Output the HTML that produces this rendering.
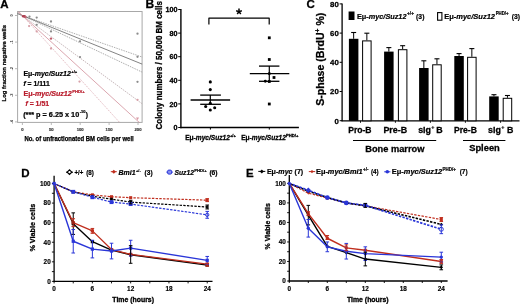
<!DOCTYPE html>
<html><head><meta charset="utf-8"><style>
html,body{margin:0;padding:0;background:#fff;}
svg{display:block;filter:blur(0.25px);font-family:"Liberation Sans", sans-serif;}
</style></head><body>
<svg width="520" height="304" viewBox="0 0 520 304" font-family='"Liberation Sans", sans-serif'>
<rect width="520" height="304" fill="#fff"/>
<text x="0.3" y="8.3" font-size="11.5" font-weight="bold" fill="#000" stroke="#000" stroke-width="0.28">A</text>
<rect x="17.6" y="11.5" width="124.5" height="110.9" fill="none" stroke="#a8a8a8" stroke-width="1"/>
<line x1="15.00" y1="15.50" x2="17.60" y2="15.50" stroke="#a8a8a8" stroke-width="0.8"/>
<text transform="translate(12.9,15.50) rotate(-90)" text-anchor="middle" font-size="4" font-weight="bold" fill="#333">0</text>
<line x1="15.00" y1="42.10" x2="17.60" y2="42.10" stroke="#a8a8a8" stroke-width="0.8"/>
<text transform="translate(12.9,42.10) rotate(-90)" text-anchor="middle" font-size="4" font-weight="bold" fill="#333">-1</text>
<line x1="15.00" y1="68.70" x2="17.60" y2="68.70" stroke="#a8a8a8" stroke-width="0.8"/>
<text transform="translate(12.9,68.70) rotate(-90)" text-anchor="middle" font-size="4" font-weight="bold" fill="#333">-2</text>
<line x1="15.00" y1="95.30" x2="17.60" y2="95.30" stroke="#a8a8a8" stroke-width="0.8"/>
<text transform="translate(12.9,95.30) rotate(-90)" text-anchor="middle" font-size="4" font-weight="bold" fill="#333">-3</text>
<line x1="15.00" y1="121.90" x2="17.60" y2="121.90" stroke="#a8a8a8" stroke-width="0.8"/>
<text transform="translate(12.9,121.90) rotate(-90)" text-anchor="middle" font-size="4" font-weight="bold" fill="#333">-4</text>
<line x1="22.40" y1="122.50" x2="22.40" y2="125.00" stroke="#a8a8a8" stroke-width="0.8"/>
<text x="22.4" y="130.8" font-size="4.2" font-weight="bold" fill="#333" text-anchor="middle" stroke="#333" stroke-width="0.15">0</text>
<line x1="51.30" y1="122.50" x2="51.30" y2="125.00" stroke="#a8a8a8" stroke-width="0.8"/>
<text x="51.3" y="130.8" font-size="4.2" font-weight="bold" fill="#333" text-anchor="middle" stroke="#333" stroke-width="0.15">50</text>
<line x1="80.20" y1="122.50" x2="80.20" y2="125.00" stroke="#a8a8a8" stroke-width="0.8"/>
<text x="80.19999999999999" y="130.8" font-size="4.2" font-weight="bold" fill="#333" text-anchor="middle" stroke="#333" stroke-width="0.15">100</text>
<line x1="109.10" y1="122.50" x2="109.10" y2="125.00" stroke="#a8a8a8" stroke-width="0.8"/>
<text x="109.1" y="130.8" font-size="4.2" font-weight="bold" fill="#333" text-anchor="middle" stroke="#333" stroke-width="0.15">150</text>
<line x1="138.00" y1="122.50" x2="138.00" y2="125.00" stroke="#a8a8a8" stroke-width="0.8"/>
<text x="138.0" y="130.8" font-size="4.2" font-weight="bold" fill="#333" text-anchor="middle" stroke="#333" stroke-width="0.15">200</text>
<text x="24.4" y="140.7" font-size="6.3" font-weight="bold" fill="#000" textLength="109.3" lengthAdjust="spacingAndGlyphs" stroke="#000" stroke-width="0.25">No. of unfractionated BM cells per well</text>
<text transform="translate(5.6,63.2) rotate(-90)" x="0" y="0" text-anchor="middle" font-size="6.1" font-weight="bold" fill="#000" textLength="76.5" lengthAdjust="spacingAndGlyphs" stroke="#000" stroke-width="0.25">Log fraction negative wells</text>
<clipPath id="clipA"><rect x="17.6" y="11.5" width="124.5" height="110.9"/></clipPath>
<g clip-path="url(#clipA)">
<line x1="12.40" y1="12.03" x2="152.40" y2="60.61" stroke="#8c8c8c" stroke-width="0.7" stroke-dasharray="1.5,1.0"/>
<line x1="12.40" y1="11.44" x2="152.40" y2="68.28" stroke="#5a5a5a" stroke-width="0.75"/>
<line x1="12.40" y1="10.77" x2="152.40" y2="76.99" stroke="#8c8c8c" stroke-width="0.7" stroke-dasharray="1.5,1.0"/>
<line x1="12.40" y1="8.13" x2="152.40" y2="111.31" stroke="#b4a0a4" stroke-width="0.75" stroke-dasharray="1.5,1.0"/>
<line x1="12.40" y1="6.35" x2="152.40" y2="134.45" stroke="#cc808c" stroke-width="0.7"/>
<line x1="12.40" y1="4.50" x2="152.40" y2="158.50" stroke="#d8a4ac" stroke-width="0.7" stroke-dasharray="1.5,1.0"/>
</g>
<circle cx="29.50" cy="16.60" r="1.15" fill="#8c8c8c" stroke="none" stroke-width="1"/>
<circle cx="36.70" cy="17.60" r="1.15" fill="#8c8c8c" stroke="none" stroke-width="1"/>
<circle cx="36.70" cy="24.80" r="1.15" fill="#8c8c8c" stroke="none" stroke-width="1"/>
<circle cx="51.00" cy="21.50" r="1.15" fill="#8c8c8c" stroke="none" stroke-width="1"/>
<circle cx="51.00" cy="31.40" r="1.15" fill="#8c8c8c" stroke="none" stroke-width="1"/>
<circle cx="80.00" cy="41.30" r="1.15" fill="#8c8c8c" stroke="none" stroke-width="1"/>
<circle cx="80.00" cy="57.10" r="1.15" fill="#8c8c8c" stroke="none" stroke-width="1"/>
<circle cx="137.50" cy="33.70" r="1.15" fill="#8c8c8c" stroke="none" stroke-width="1"/>
<circle cx="137.50" cy="56.80" r="1.15" fill="#8c8c8c" stroke="none" stroke-width="1"/>
<circle cx="137.50" cy="81.80" r="1.15" fill="#8c8c8c" stroke="none" stroke-width="1"/>
<circle cx="29.10" cy="26.10" r="1.15" fill="#d8a0a8" stroke="none" stroke-width="1"/>
<circle cx="36.70" cy="31.40" r="1.15" fill="#d8a0a8" stroke="none" stroke-width="1"/>
<circle cx="51.00" cy="48.50" r="1.15" fill="#d8a0a8" stroke="none" stroke-width="1"/>
<circle cx="79.50" cy="81.60" r="1.15" fill="#d8a0a8" stroke="none" stroke-width="1"/>
<circle cx="137.50" cy="99.80" r="1.15" fill="#d8a0a8" stroke="none" stroke-width="1"/>
<circle cx="51.00" cy="38.60" r="1.2" fill="#c05a6a" stroke="none" stroke-width="1"/>
<path d="M136,117.6 L139,117.6 L137.5,120.2 Z" fill="#d89aa4"/>
<circle cx="23.20" cy="16.20" r="1.3" fill="#b04050" stroke="none" stroke-width="1"/>
<circle cx="24.60" cy="16.40" r="1.3" fill="#b04050" stroke="none" stroke-width="1"/>
<circle cx="25.60" cy="16.90" r="1.1" fill="#c06070" stroke="none" stroke-width="1"/>
<text x="23.4" y="75.7" font-size="7.0" font-weight="bold" fill="#000" color="#000" stroke="#000" stroke-width="0.22" textLength="47.4" lengthAdjust="spacingAndGlyphs">Eμ-<tspan font-style="italic">myc/Suz12</tspan></text>
<text x="71.3" y="72.6" font-size="4.3" font-weight="bold" fill="#000" color="#000" stroke="#000" stroke-width="0.22" textLength="6.0" lengthAdjust="spacingAndGlyphs">+/+</text>
<text x="23.4" y="85.5" font-size="7.0" font-weight="bold" fill="#000" color="#000" stroke="#000" stroke-width="0.22" textLength="26.4" lengthAdjust="spacingAndGlyphs"><tspan font-style="italic">f</tspan> = 1/111</text>
<text x="23.4" y="95.8" font-size="7.0" font-weight="bold" fill="#b91c2c" color="#b91c2c" stroke="#b91c2c" stroke-width="0.22" textLength="48.4" lengthAdjust="spacingAndGlyphs">Eμ-<tspan font-style="italic">myc/Suz12</tspan></text>
<text x="72.2" y="92.6" font-size="4.3" font-weight="bold" fill="#b91c2c" color="#b91c2c" stroke="#b91c2c" stroke-width="0.22" textLength="12.4" lengthAdjust="spacingAndGlyphs">PHD/+</text>
<text x="25.4" y="106.4" font-size="7.0" font-weight="bold" fill="#b91c2c" color="#b91c2c" stroke="#b91c2c" stroke-width="0.22" textLength="23.7" lengthAdjust="spacingAndGlyphs"><tspan font-style="italic">f</tspan> = 1/51</text>
<text x="23.2" y="116.5" font-size="7.0" font-weight="bold" fill="#000" color="#000" stroke="#000" stroke-width="0.22" textLength="56.0" lengthAdjust="spacingAndGlyphs">(*** p = 6.25 x 10</text>
<text x="79.7" y="113.2" font-size="4.3" font-weight="bold" fill="#000" color="#000" stroke="#000" stroke-width="0.22" textLength="5.8" lengthAdjust="spacingAndGlyphs">-10</text>
<text x="85.7" y="116.5" font-size="7.0" font-weight="bold" fill="#000" color="#000" stroke="#000" stroke-width="0.22" textLength="2.2" lengthAdjust="spacingAndGlyphs">)</text>
<text x="145.5" y="7.9" font-size="12" font-weight="bold" fill="#000" stroke="#000" stroke-width="0.28">B</text>
<line x1="180.90" y1="9.00" x2="180.90" y2="128.20" stroke="#000" stroke-width="1.4"/>
<line x1="180.20" y1="127.50" x2="298.90" y2="127.50" stroke="#000" stroke-width="1.4"/>
<line x1="178.20" y1="127.50" x2="180.90" y2="127.50" stroke="#000" stroke-width="1"/>
<text x="177.6" y="130.1" font-size="7.2" font-weight="bold" fill="#000" text-anchor="end" stroke="#000" stroke-width="0.28">0</text>
<line x1="178.20" y1="103.90" x2="180.90" y2="103.90" stroke="#000" stroke-width="1"/>
<text x="177.6" y="106.5" font-size="7.2" font-weight="bold" fill="#000" text-anchor="end" stroke="#000" stroke-width="0.28">20</text>
<line x1="178.20" y1="80.30" x2="180.90" y2="80.30" stroke="#000" stroke-width="1"/>
<text x="177.6" y="82.9" font-size="7.2" font-weight="bold" fill="#000" text-anchor="end" stroke="#000" stroke-width="0.28">40</text>
<line x1="178.20" y1="56.70" x2="180.90" y2="56.70" stroke="#000" stroke-width="1"/>
<text x="177.6" y="59.300000000000004" font-size="7.2" font-weight="bold" fill="#000" text-anchor="end" stroke="#000" stroke-width="0.28">60</text>
<line x1="178.20" y1="33.10" x2="180.90" y2="33.10" stroke="#000" stroke-width="1"/>
<text x="177.6" y="35.70000000000001" font-size="7.2" font-weight="bold" fill="#000" text-anchor="end" stroke="#000" stroke-width="0.28">80</text>
<line x1="178.20" y1="9.50" x2="180.90" y2="9.50" stroke="#000" stroke-width="1"/>
<text x="177.6" y="12.1" font-size="7.2" font-weight="bold" fill="#000" text-anchor="end" stroke="#000" stroke-width="0.28">100</text>
<line x1="210.40" y1="127.50" x2="210.40" y2="129.60" stroke="#000" stroke-width="1"/>
<line x1="269.30" y1="127.50" x2="269.30" y2="129.60" stroke="#000" stroke-width="1"/>
<text transform="translate(162.2,65.3) rotate(-90)" x="0" y="0" text-anchor="middle" font-size="8.3" font-weight="bold" fill="#000" textLength="128.4" lengthAdjust="spacingAndGlyphs" stroke="#000" stroke-width="0.28">Colony numbers / 50,000 BM cells</text>
<text x="185.2" y="140.3" font-size="6.6" font-weight="bold" fill="#000" stroke="#000" stroke-width="0.28">Eμ-<tspan font-style="italic">myc/Suz12</tspan><tspan font-size="4.2" dy="-3">+/+</tspan></text>
<text x="241.2" y="140.3" font-size="6.6" font-weight="bold" fill="#000" stroke="#000" stroke-width="0.28">Eμ-<tspan font-style="italic">myc/Suz12</tspan><tspan font-size="4.2" dy="-3">PHD/+</tspan></text>
<polyline points="208.90,24.40 208.90,18.20 269.20,18.20 269.20,24.40" fill="none" stroke="#000" stroke-width="1.2" stroke-linejoin="round"/>
<line x1="239.00" y1="11.60" x2="239.00" y2="8.60" stroke="#000" stroke-width="1.5"/>
<line x1="239.00" y1="11.60" x2="241.85" y2="10.67" stroke="#000" stroke-width="1.5"/>
<line x1="239.00" y1="11.60" x2="240.76" y2="14.03" stroke="#000" stroke-width="1.5"/>
<line x1="239.00" y1="11.60" x2="237.24" y2="14.03" stroke="#000" stroke-width="1.5"/>
<line x1="239.00" y1="11.60" x2="236.15" y2="10.67" stroke="#000" stroke-width="1.5"/>
<line x1="190.60" y1="100.00" x2="230.10" y2="100.00" stroke="#000" stroke-width="1.3"/>
<line x1="200.20" y1="95.10" x2="220.90" y2="95.10" stroke="#000" stroke-width="1.3"/>
<line x1="200.20" y1="104.30" x2="220.90" y2="104.30" stroke="#000" stroke-width="1.3"/>
<line x1="210.30" y1="95.10" x2="210.30" y2="104.30" stroke="#000" stroke-width="1.2"/>
<circle cx="210.30" cy="81.90" r="1.55" fill="#000" stroke="none" stroke-width="1"/>
<circle cx="210.30" cy="89.60" r="1.55" fill="#000" stroke="none" stroke-width="1"/>
<circle cx="210.30" cy="103.20" r="1.55" fill="#000" stroke="none" stroke-width="1"/>
<circle cx="205.70" cy="106.50" r="1.55" fill="#000" stroke="none" stroke-width="1"/>
<circle cx="214.70" cy="107.80" r="1.55" fill="#000" stroke="none" stroke-width="1"/>
<circle cx="210.30" cy="110.00" r="1.55" fill="#000" stroke="none" stroke-width="1"/>
<line x1="249.80" y1="73.60" x2="289.30" y2="73.60" stroke="#000" stroke-width="1.3"/>
<line x1="259.00" y1="66.10" x2="279.40" y2="66.10" stroke="#000" stroke-width="1.3"/>
<line x1="259.00" y1="81.30" x2="279.40" y2="81.30" stroke="#000" stroke-width="1.3"/>
<line x1="269.30" y1="66.10" x2="269.30" y2="81.30" stroke="#000" stroke-width="1.2"/>
<rect x="267.90" y="36.40" width="2.80" height="2.80" fill="#000" stroke="none" stroke-width="1"/>
<rect x="267.90" y="58.10" width="2.80" height="2.80" fill="#000" stroke="none" stroke-width="1"/>
<rect x="272.60" y="76.10" width="2.80" height="2.80" fill="#000" stroke="none" stroke-width="1"/>
<rect x="267.90" y="80.10" width="2.80" height="2.80" fill="#000" stroke="none" stroke-width="1"/>
<rect x="267.90" y="102.60" width="2.80" height="2.80" fill="#000" stroke="none" stroke-width="1"/>
<circle cx="265.30" cy="81.30" r="1.45" fill="#000" stroke="none" stroke-width="1"/>
<circle cx="269.30" cy="73.60" r="1.5" fill="#000" stroke="none" stroke-width="1"/>
<text x="306.6" y="8.3" font-size="11.5" font-weight="bold" fill="#000" stroke="#000" stroke-width="0.28">C</text>
<line x1="342.10" y1="3.50" x2="342.10" y2="121.20" stroke="#000" stroke-width="1.3"/>
<line x1="341.50" y1="120.80" x2="519.50" y2="120.80" stroke="#000" stroke-width="1.3"/>
<line x1="339.60" y1="120.70" x2="342.10" y2="120.70" stroke="#000" stroke-width="1"/>
<text x="338.8" y="123.5" font-size="7.8" font-weight="bold" fill="#000" text-anchor="end" stroke="#000" stroke-width="0.28">0</text>
<line x1="339.60" y1="91.50" x2="342.10" y2="91.50" stroke="#000" stroke-width="1"/>
<text x="338.8" y="94.3" font-size="7.8" font-weight="bold" fill="#000" text-anchor="end" stroke="#000" stroke-width="0.28">20</text>
<line x1="339.60" y1="62.30" x2="342.10" y2="62.30" stroke="#000" stroke-width="1"/>
<text x="338.8" y="65.10000000000001" font-size="7.8" font-weight="bold" fill="#000" text-anchor="end" stroke="#000" stroke-width="0.28">40</text>
<line x1="339.60" y1="33.10" x2="342.10" y2="33.10" stroke="#000" stroke-width="1"/>
<text x="338.8" y="35.900000000000006" font-size="7.8" font-weight="bold" fill="#000" text-anchor="end" stroke="#000" stroke-width="0.28">60</text>
<line x1="339.60" y1="3.90" x2="342.10" y2="3.90" stroke="#000" stroke-width="1"/>
<text x="338.8" y="6.7000000000000055" font-size="7.8" font-weight="bold" fill="#000" text-anchor="end" stroke="#000" stroke-width="0.28">80</text>
<text transform="translate(323.6,59.2) rotate(-90)" x="0" y="0" text-anchor="middle" font-size="10.4" font-weight="bold" fill="#000" textLength="93" lengthAdjust="spacingAndGlyphs" stroke="#000" stroke-width="0.28">S-phase (BrdU<tspan font-size="6.5" dy="-3.8">+</tspan><tspan dy="3.8"> %)</tspan></text>
<rect x="348.60" y="11.50" width="5.90" height="8.50" fill="#000" stroke="none" stroke-width="1"/>
<text x="357.0" y="18.6" font-size="7.3" font-weight="bold" fill="#000" stroke="#000" stroke-width="0.2" textLength="49.5" lengthAdjust="spacingAndGlyphs">Eμ-<tspan font-style="italic">myc/Suz12</tspan></text>
<text x="407.1" y="15.4" font-size="4.8" font-weight="bold" fill="#000" stroke="#000" stroke-width="0.2" textLength="6.8" lengthAdjust="spacingAndGlyphs">+/+</text>
<text x="416.1" y="18.6" font-size="7.3" font-weight="bold" fill="#000" stroke="#000" stroke-width="0.2" textLength="8.3" lengthAdjust="spacingAndGlyphs">(3)</text>
<rect x="437.60" y="12.60" width="4.30" height="7.60" fill="#fff" stroke="#000" stroke-width="1.1"/>
<text x="444.2" y="18.6" font-size="7.3" font-weight="bold" fill="#000" stroke="#000" stroke-width="0.2" textLength="50.8" lengthAdjust="spacingAndGlyphs">Eμ-<tspan font-style="italic">myc/Suz12</tspan></text>
<text x="495.7" y="15.4" font-size="4.8" font-weight="bold" fill="#000" stroke="#000" stroke-width="0.2" textLength="12.9" lengthAdjust="spacingAndGlyphs">PHD/+</text>
<text x="511.8" y="18.6" font-size="7.3" font-weight="bold" fill="#000" stroke="#000" stroke-width="0.2" textLength="8.3" lengthAdjust="spacingAndGlyphs">(3)</text>
<line x1="353.65" y1="38.80" x2="353.65" y2="32.50" stroke="#000" stroke-width="1"/>
<line x1="351.15" y1="32.50" x2="356.15" y2="32.50" stroke="#000" stroke-width="1.1"/>
<rect x="348.90" y="38.80" width="9.50" height="82.00" fill="#000" stroke="none" stroke-width="1"/>
<line x1="366.85" y1="40.40" x2="366.85" y2="33.20" stroke="#000" stroke-width="1"/>
<line x1="364.35" y1="33.20" x2="369.35" y2="33.20" stroke="#000" stroke-width="1.1"/>
<rect x="362.60" y="40.90" width="8.50" height="79.90" fill="#fff" stroke="#000" stroke-width="1"/>
<line x1="388.85" y1="51.60" x2="388.85" y2="47.60" stroke="#000" stroke-width="1"/>
<line x1="386.35" y1="47.60" x2="391.35" y2="47.60" stroke="#000" stroke-width="1.1"/>
<rect x="384.10" y="51.60" width="9.50" height="69.20" fill="#000" stroke="none" stroke-width="1"/>
<line x1="402.65" y1="49.20" x2="402.65" y2="45.70" stroke="#000" stroke-width="1"/>
<line x1="400.15" y1="45.70" x2="405.15" y2="45.70" stroke="#000" stroke-width="1.1"/>
<rect x="398.40" y="49.70" width="8.50" height="71.10" fill="#fff" stroke="#000" stroke-width="1"/>
<line x1="423.85" y1="68.00" x2="423.85" y2="60.80" stroke="#000" stroke-width="1"/>
<line x1="421.35" y1="60.80" x2="426.35" y2="60.80" stroke="#000" stroke-width="1.1"/>
<rect x="419.10" y="68.00" width="9.50" height="52.80" fill="#000" stroke="none" stroke-width="1"/>
<line x1="436.95" y1="64.30" x2="436.95" y2="58.80" stroke="#000" stroke-width="1"/>
<line x1="434.45" y1="58.80" x2="439.45" y2="58.80" stroke="#000" stroke-width="1.1"/>
<rect x="432.70" y="64.80" width="8.50" height="56.00" fill="#fff" stroke="#000" stroke-width="1"/>
<line x1="459.05" y1="56.00" x2="459.05" y2="53.60" stroke="#000" stroke-width="1"/>
<line x1="456.55" y1="53.60" x2="461.55" y2="53.60" stroke="#000" stroke-width="1.1"/>
<rect x="454.30" y="56.00" width="9.50" height="64.80" fill="#000" stroke="none" stroke-width="1"/>
<line x1="471.85" y1="56.80" x2="471.85" y2="48.60" stroke="#000" stroke-width="1"/>
<line x1="469.35" y1="48.60" x2="474.35" y2="48.60" stroke="#000" stroke-width="1.1"/>
<rect x="467.60" y="57.30" width="8.50" height="63.50" fill="#fff" stroke="#000" stroke-width="1"/>
<line x1="493.95" y1="96.40" x2="493.95" y2="94.70" stroke="#000" stroke-width="1"/>
<line x1="491.45" y1="94.70" x2="496.45" y2="94.70" stroke="#000" stroke-width="1.1"/>
<rect x="489.20" y="96.40" width="9.50" height="24.40" fill="#000" stroke="none" stroke-width="1"/>
<line x1="507.45" y1="97.80" x2="507.45" y2="95.50" stroke="#000" stroke-width="1"/>
<line x1="504.95" y1="95.50" x2="509.95" y2="95.50" stroke="#000" stroke-width="1.1"/>
<rect x="503.20" y="98.30" width="8.50" height="22.50" fill="#fff" stroke="#000" stroke-width="1"/>
<line x1="360.50" y1="120.80" x2="360.50" y2="122.80" stroke="#000" stroke-width="0.9"/>
<line x1="395.40" y1="120.80" x2="395.40" y2="122.80" stroke="#000" stroke-width="0.9"/>
<line x1="430.40" y1="120.80" x2="430.40" y2="122.80" stroke="#000" stroke-width="0.9"/>
<line x1="465.40" y1="120.80" x2="465.40" y2="122.80" stroke="#000" stroke-width="0.9"/>
<line x1="500.60" y1="120.80" x2="500.60" y2="122.80" stroke="#000" stroke-width="0.9"/>
<text x="348.2" y="132.9" font-size="8.7" font-weight="bold" fill="#000" textLength="23.4" lengthAdjust="spacingAndGlyphs" stroke="#000" stroke-width="0.28">Pro-B</text>
<text x="383.4" y="132.9" font-size="8.7" font-weight="bold" fill="#000" textLength="23.8" lengthAdjust="spacingAndGlyphs" stroke="#000" stroke-width="0.28">Pre-B</text>
<text x="418.2" y="132.9" font-size="8.7" font-weight="bold" fill="#000" textLength="12.8" lengthAdjust="spacingAndGlyphs" stroke="#000" stroke-width="0.28">sIg</text>
<text x="431.3" y="129.4" font-size="5.5" font-weight="bold" fill="#000" stroke="#000" stroke-width="0.15">+</text>
<text x="436.3" y="132.9" font-size="8.7" font-weight="bold" fill="#000" textLength="6.4" lengthAdjust="spacingAndGlyphs" stroke="#000" stroke-width="0.28">B</text>
<text x="453.9" y="132.9" font-size="8.7" font-weight="bold" fill="#000" textLength="23.0" lengthAdjust="spacingAndGlyphs" stroke="#000" stroke-width="0.28">Pre-B</text>
<text x="488.0" y="132.9" font-size="8.7" font-weight="bold" fill="#000" textLength="12.8" lengthAdjust="spacingAndGlyphs" stroke="#000" stroke-width="0.28">sIg</text>
<text x="501.2" y="129.4" font-size="5.5" font-weight="bold" fill="#000" stroke="#000" stroke-width="0.15">+</text>
<text x="507.0" y="132.9" font-size="8.7" font-weight="bold" fill="#000" textLength="6.4" lengthAdjust="spacingAndGlyphs" stroke="#000" stroke-width="0.28">B</text>
<line x1="353.00" y1="140.50" x2="436.20" y2="140.50" stroke="#000" stroke-width="1.2"/>
<line x1="463.00" y1="140.50" x2="505.40" y2="140.50" stroke="#000" stroke-width="1.2"/>
<text x="365.2" y="151.6" font-size="9.3" font-weight="bold" fill="#000" textLength="59.3" lengthAdjust="spacingAndGlyphs" stroke="#000" stroke-width="0.28">Bone marrow</text>
<text x="469.2" y="150.8" font-size="9.3" font-weight="bold" fill="#000" textLength="30.6" lengthAdjust="spacingAndGlyphs" stroke="#000" stroke-width="0.28">Spleen</text>
<text x="21.3" y="176.8" font-size="11.5" font-weight="bold" fill="#000" stroke="#000" stroke-width="0.28">D</text>
<line x1="54.10" y1="175.80" x2="54.10" y2="282.00" stroke="#000" stroke-width="1.3"/>
<line x1="53.50" y1="281.40" x2="212.50" y2="281.40" stroke="#000" stroke-width="1.3"/>
<line x1="51.90" y1="281.40" x2="54.10" y2="281.40" stroke="#000" stroke-width="0.9"/>
<text x="50.7" y="283.7" font-size="6.4" font-weight="bold" fill="#000" text-anchor="end" stroke="#000" stroke-width="0.15">0</text>
<line x1="51.90" y1="271.61" x2="54.10" y2="271.61" stroke="#000" stroke-width="0.9"/>
<line x1="51.90" y1="261.82" x2="54.10" y2="261.82" stroke="#000" stroke-width="0.9"/>
<text x="50.7" y="264.12" font-size="6.4" font-weight="bold" fill="#000" text-anchor="end" stroke="#000" stroke-width="0.15">20</text>
<line x1="51.90" y1="252.03" x2="54.10" y2="252.03" stroke="#000" stroke-width="0.9"/>
<line x1="51.90" y1="242.24" x2="54.10" y2="242.24" stroke="#000" stroke-width="0.9"/>
<text x="50.7" y="244.54" font-size="6.4" font-weight="bold" fill="#000" text-anchor="end" stroke="#000" stroke-width="0.15">40</text>
<line x1="51.90" y1="232.45" x2="54.10" y2="232.45" stroke="#000" stroke-width="0.9"/>
<line x1="51.90" y1="222.66" x2="54.10" y2="222.66" stroke="#000" stroke-width="0.9"/>
<text x="50.7" y="224.95999999999998" font-size="6.4" font-weight="bold" fill="#000" text-anchor="end" stroke="#000" stroke-width="0.15">60</text>
<line x1="51.90" y1="212.87" x2="54.10" y2="212.87" stroke="#000" stroke-width="0.9"/>
<line x1="51.90" y1="203.08" x2="54.10" y2="203.08" stroke="#000" stroke-width="0.9"/>
<text x="50.7" y="205.38" font-size="6.4" font-weight="bold" fill="#000" text-anchor="end" stroke="#000" stroke-width="0.15">80</text>
<line x1="51.90" y1="193.29" x2="54.10" y2="193.29" stroke="#000" stroke-width="0.9"/>
<line x1="51.90" y1="183.50" x2="54.10" y2="183.50" stroke="#000" stroke-width="0.9"/>
<text x="50.7" y="185.8" font-size="6.4" font-weight="bold" fill="#000" text-anchor="end" stroke="#000" stroke-width="0.15">100</text>
<line x1="54.10" y1="281.40" x2="54.10" y2="283.40" stroke="#000" stroke-width="0.9"/>
<text x="54.1" y="290.9" font-size="6.4" font-weight="bold" fill="#000" text-anchor="middle" stroke="#000" stroke-width="0.15">0</text>
<line x1="73.24" y1="281.40" x2="73.24" y2="283.40" stroke="#000" stroke-width="0.9"/>
<line x1="92.38" y1="281.40" x2="92.38" y2="283.40" stroke="#000" stroke-width="0.9"/>
<text x="92.38" y="290.9" font-size="6.4" font-weight="bold" fill="#000" text-anchor="middle" stroke="#000" stroke-width="0.15">6</text>
<line x1="111.52" y1="281.40" x2="111.52" y2="283.40" stroke="#000" stroke-width="0.9"/>
<line x1="130.66" y1="281.40" x2="130.66" y2="283.40" stroke="#000" stroke-width="0.9"/>
<text x="130.66" y="290.9" font-size="6.4" font-weight="bold" fill="#000" text-anchor="middle" stroke="#000" stroke-width="0.15">12</text>
<line x1="149.80" y1="281.40" x2="149.80" y2="283.40" stroke="#000" stroke-width="0.9"/>
<line x1="168.94" y1="281.40" x2="168.94" y2="283.40" stroke="#000" stroke-width="0.9"/>
<text x="168.94" y="290.9" font-size="6.4" font-weight="bold" fill="#000" text-anchor="middle" stroke="#000" stroke-width="0.15">18</text>
<line x1="188.08" y1="281.40" x2="188.08" y2="283.40" stroke="#000" stroke-width="0.9"/>
<line x1="207.22" y1="281.40" x2="207.22" y2="283.40" stroke="#000" stroke-width="0.9"/>
<text x="207.22" y="290.9" font-size="6.4" font-weight="bold" fill="#000" text-anchor="middle" stroke="#000" stroke-width="0.15">24</text>
<text transform="translate(34.5,227.7) rotate(-90)" x="0" y="0" text-anchor="middle" font-size="7.5" font-weight="bold" fill="#000" textLength="47.8" lengthAdjust="spacingAndGlyphs" stroke="#000" stroke-width="0.28">% Viable cells</text>
<text x="133.16" y="301.8" font-size="7.8" font-weight="bold" fill="#000" text-anchor="middle" textLength="41.6" lengthAdjust="spacingAndGlyphs" stroke="#000" stroke-width="0.35">Time (hours)</text>
<polyline points="54.10,183.50 73.24,191.82 92.38,194.86 111.52,196.72 130.66,197.70 207.22,200.14" fill="none" stroke="#c02e1e" stroke-width="1.2" stroke-linejoin="round" stroke-dasharray="2.4,1.3" stroke-dashoffset="0"/>
<polyline points="54.10,183.50 73.24,191.82 92.38,196.23 111.52,199.16 130.66,202.10 207.22,207.00" fill="none" stroke="#000" stroke-width="1.2" stroke-linejoin="round" stroke-dasharray="2.4,1.3" stroke-dashoffset="1.25"/>
<polyline points="54.10,183.50 73.24,191.82 92.38,197.21 111.52,202.10 130.66,204.06 207.22,214.83" fill="none" stroke="#2a36d8" stroke-width="1.2" stroke-linejoin="round" stroke-dasharray="2.4,1.3" stroke-dashoffset="2.5"/>
<polyline points="54.10,183.50 73.24,223.64 92.38,241.65 111.52,250.07 130.66,254.77 207.22,265.05" fill="none" stroke="#000" stroke-width="1.35" stroke-linejoin="round"/>
<polyline points="54.10,183.50 73.24,222.66 92.38,230.88 111.52,249.58 130.66,254.38 207.22,264.17" fill="none" stroke="#c02e1e" stroke-width="1.3" stroke-linejoin="round"/>
<polyline points="54.10,183.50 73.24,241.26 92.38,249.09 111.52,251.05 130.66,248.11 207.22,260.35" fill="none" stroke="#2a36d8" stroke-width="1.4" stroke-linejoin="round"/>
<rect x="71.71" y="190.29" width="3.06" height="3.06" fill="#c02e1e" stroke="none" stroke-width="1"/>
<rect x="90.85" y="193.33" width="3.06" height="3.06" fill="#c02e1e" stroke="none" stroke-width="1"/>
<rect x="109.99" y="195.19" width="3.06" height="3.06" fill="#c02e1e" stroke="none" stroke-width="1"/>
<rect x="129.13" y="196.17" width="3.06" height="3.06" fill="#c02e1e" stroke="none" stroke-width="1"/>
<rect x="205.69" y="198.61" width="3.06" height="3.06" fill="#c02e1e" stroke="none" stroke-width="1"/>
<rect x="71.88" y="190.46" width="2.72" height="2.72" fill="#000" stroke="none" stroke-width="1"/>
<rect x="91.02" y="194.87" width="2.72" height="2.72" fill="#000" stroke="none" stroke-width="1"/>
<rect x="110.16" y="197.80" width="2.72" height="2.72" fill="#000" stroke="none" stroke-width="1"/>
<rect x="129.30" y="200.74" width="2.72" height="2.72" fill="#000" stroke="none" stroke-width="1"/>
<rect x="206.36" y="206.14" width="1.72" height="1.72" fill="#fff" stroke="#000" stroke-width="1.0"/>
<rect x="71.29" y="189.87" width="3.91" height="3.91" fill="#2a36d8" stroke="none" stroke-width="1"/>
<rect x="90.42" y="195.25" width="3.91" height="3.91" fill="#2a36d8" stroke="none" stroke-width="1"/>
<rect x="109.57" y="200.15" width="3.91" height="3.91" fill="#2a36d8" stroke="none" stroke-width="1"/>
<rect x="128.70" y="202.10" width="3.91" height="3.91" fill="#2a36d8" stroke="none" stroke-width="1"/>
<circle cx="207.22" cy="214.83" r="1.6617499999999998" fill="#fff" stroke="#2a36d8" stroke-width="1.0"/>
<rect x="71.63" y="222.02" width="3.23" height="3.23" fill="#000" stroke="none" stroke-width="1"/>
<rect x="90.77" y="240.04" width="3.23" height="3.23" fill="#000" stroke="none" stroke-width="1"/>
<rect x="109.91" y="248.46" width="3.23" height="3.23" fill="#000" stroke="none" stroke-width="1"/>
<rect x="129.04" y="253.16" width="3.23" height="3.23" fill="#000" stroke="none" stroke-width="1"/>
<rect x="205.60" y="263.44" width="3.23" height="3.23" fill="#000" stroke="none" stroke-width="1"/>
<rect x="71.63" y="221.04" width="3.23" height="3.23" fill="#c02e1e" stroke="none" stroke-width="1"/>
<rect x="90.77" y="229.27" width="3.23" height="3.23" fill="#c02e1e" stroke="none" stroke-width="1"/>
<rect x="109.91" y="247.97" width="3.23" height="3.23" fill="#c02e1e" stroke="none" stroke-width="1"/>
<rect x="129.04" y="252.76" width="3.23" height="3.23" fill="#c02e1e" stroke="none" stroke-width="1"/>
<rect x="205.60" y="262.55" width="3.23" height="3.23" fill="#c02e1e" stroke="none" stroke-width="1"/>
<rect x="52.48" y="181.88" width="3.23" height="3.23" fill="#2a36d8" stroke="none" stroke-width="1"/>
<rect x="71.63" y="239.65" width="3.23" height="3.23" fill="#2a36d8" stroke="none" stroke-width="1"/>
<rect x="90.77" y="247.48" width="3.23" height="3.23" fill="#2a36d8" stroke="none" stroke-width="1"/>
<rect x="109.91" y="249.44" width="3.23" height="3.23" fill="#2a36d8" stroke="none" stroke-width="1"/>
<rect x="129.04" y="246.50" width="3.23" height="3.23" fill="#2a36d8" stroke="none" stroke-width="1"/>
<rect x="205.60" y="258.74" width="3.23" height="3.23" fill="#2a36d8" stroke="none" stroke-width="1"/>
<line x1="73.24" y1="234.41" x2="73.24" y2="212.87" stroke="#000" stroke-width="1"/>
<line x1="71.44" y1="212.87" x2="75.04" y2="212.87" stroke="#000" stroke-width="1"/>
<line x1="71.44" y1="234.41" x2="75.04" y2="234.41" stroke="#000" stroke-width="1"/>
<line x1="73.24" y1="253.01" x2="73.24" y2="229.51" stroke="#2a36d8" stroke-width="1"/>
<line x1="71.44" y1="229.51" x2="75.04" y2="229.51" stroke="#2a36d8" stroke-width="1"/>
<line x1="71.44" y1="253.01" x2="75.04" y2="253.01" stroke="#2a36d8" stroke-width="1"/>
<line x1="73.24" y1="226.58" x2="73.24" y2="218.74" stroke="#c02e1e" stroke-width="1"/>
<line x1="71.44" y1="218.74" x2="75.04" y2="218.74" stroke="#c02e1e" stroke-width="1"/>
<line x1="71.44" y1="226.58" x2="75.04" y2="226.58" stroke="#c02e1e" stroke-width="1"/>
<line x1="92.38" y1="257.90" x2="92.38" y2="240.28" stroke="#2a36d8" stroke-width="1"/>
<line x1="90.58" y1="240.28" x2="94.18" y2="240.28" stroke="#2a36d8" stroke-width="1"/>
<line x1="90.58" y1="257.90" x2="94.18" y2="257.90" stroke="#2a36d8" stroke-width="1"/>
<line x1="92.38" y1="233.33" x2="92.38" y2="228.44" stroke="#c02e1e" stroke-width="1"/>
<line x1="90.58" y1="228.44" x2="94.18" y2="228.44" stroke="#c02e1e" stroke-width="1"/>
<line x1="90.58" y1="233.33" x2="94.18" y2="233.33" stroke="#c02e1e" stroke-width="1"/>
<line x1="111.52" y1="258.88" x2="111.52" y2="243.22" stroke="#2a36d8" stroke-width="1"/>
<line x1="109.72" y1="243.22" x2="113.32" y2="243.22" stroke="#2a36d8" stroke-width="1"/>
<line x1="109.72" y1="258.88" x2="113.32" y2="258.88" stroke="#2a36d8" stroke-width="1"/>
<line x1="130.66" y1="255.95" x2="130.66" y2="240.28" stroke="#2a36d8" stroke-width="1"/>
<line x1="128.86" y1="240.28" x2="132.46" y2="240.28" stroke="#2a36d8" stroke-width="1"/>
<line x1="128.86" y1="255.95" x2="132.46" y2="255.95" stroke="#2a36d8" stroke-width="1"/>
<line x1="130.66" y1="263.29" x2="130.66" y2="245.67" stroke="#000" stroke-width="1"/>
<line x1="128.86" y1="245.67" x2="132.46" y2="245.67" stroke="#000" stroke-width="1"/>
<line x1="128.86" y1="263.29" x2="132.46" y2="263.29" stroke="#000" stroke-width="1"/>
<line x1="207.22" y1="264.27" x2="207.22" y2="256.44" stroke="#2a36d8" stroke-width="1"/>
<line x1="205.42" y1="256.44" x2="209.02" y2="256.44" stroke="#2a36d8" stroke-width="1"/>
<line x1="205.42" y1="264.27" x2="209.02" y2="264.27" stroke="#2a36d8" stroke-width="1"/>
<line x1="207.22" y1="218.25" x2="207.22" y2="211.40" stroke="#2a36d8" stroke-width="1"/>
<line x1="205.42" y1="211.40" x2="209.02" y2="211.40" stroke="#2a36d8" stroke-width="1"/>
<line x1="205.42" y1="218.25" x2="209.02" y2="218.25" stroke="#2a36d8" stroke-width="1"/>
<line x1="207.22" y1="208.95" x2="207.22" y2="205.04" stroke="#000" stroke-width="1"/>
<line x1="205.42" y1="205.04" x2="209.02" y2="205.04" stroke="#000" stroke-width="1"/>
<line x1="205.42" y1="208.95" x2="209.02" y2="208.95" stroke="#000" stroke-width="1"/>
<line x1="207.22" y1="201.61" x2="207.22" y2="198.67" stroke="#c02e1e" stroke-width="1"/>
<line x1="205.42" y1="198.67" x2="209.02" y2="198.67" stroke="#c02e1e" stroke-width="1"/>
<line x1="205.42" y1="201.61" x2="209.02" y2="201.61" stroke="#c02e1e" stroke-width="1"/>
<line x1="207.22" y1="266.23" x2="207.22" y2="263.29" stroke="#c02e1e" stroke-width="1"/>
<line x1="205.42" y1="263.29" x2="209.02" y2="263.29" stroke="#c02e1e" stroke-width="1"/>
<line x1="205.42" y1="266.23" x2="209.02" y2="266.23" stroke="#c02e1e" stroke-width="1"/>
<line x1="130.66" y1="203.86" x2="130.66" y2="200.34" stroke="#000" stroke-width="1"/>
<line x1="128.86" y1="200.34" x2="132.46" y2="200.34" stroke="#000" stroke-width="1"/>
<line x1="128.86" y1="203.86" x2="132.46" y2="203.86" stroke="#000" stroke-width="1"/>
<line x1="66" y1="172.2" x2="73" y2="172.2" stroke="#000" stroke-width="1"/>
<path d="M67.2,172.2 L69.5,169.9 L71.8,172.2 L69.5,174.5 Z" fill="#fff" stroke="#000" stroke-width="1.2"/>
<text x="74.5" y="174.8" font-size="6.8" font-weight="bold" fill="#000" stroke="#000" stroke-width="0.2" textLength="8.8" lengthAdjust="spacingAndGlyphs">+/+</text>
<text x="86.2" y="174.8" font-size="6.8" font-weight="bold" fill="#000" stroke="#000" stroke-width="0.2" textLength="7.6" lengthAdjust="spacingAndGlyphs">(8)</text>
<line x1="110.8" y1="171.7" x2="116.8" y2="171.7" stroke="#c02e1e" stroke-width="1"/>
<path d="M111.8,171.7 L113.8,169.7 L115.8,171.7 L113.8,173.7 Z" fill="#c02e1e"/>
<text x="118.6" y="174.8" font-size="6.8" font-weight="bold" fill="#000" stroke="#000" stroke-width="0.2" textLength="17.0" lengthAdjust="spacingAndGlyphs" font-style="italic">Bmi1</text>
<text x="136.0" y="171.6" font-size="4.3" font-weight="bold" fill="#000" stroke="#000" stroke-width="0.2" textLength="4.8" lengthAdjust="spacingAndGlyphs">+/-</text>
<text x="144.6" y="174.8" font-size="6.8" font-weight="bold" fill="#000" stroke="#000" stroke-width="0.2" textLength="8.0" lengthAdjust="spacingAndGlyphs">(3)</text>
<line x1="166.3" y1="172.1" x2="172.9" y2="172.1" stroke="#2a36d8" stroke-width="1"/>
<rect x="167.6" y="170.1" width="4" height="4" rx="1.2" fill="#8890f0" stroke="#2a36d8" stroke-width="1"/>
<text x="174.4" y="174.8" font-size="6.8" font-weight="bold" fill="#000" stroke="#000" stroke-width="0.2" textLength="19.5" lengthAdjust="spacingAndGlyphs" font-style="italic">Suz12</text>
<text x="194.3" y="171.6" font-size="4.3" font-weight="bold" fill="#000" stroke="#000" stroke-width="0.2" textLength="12.4" lengthAdjust="spacingAndGlyphs">PHD/+</text>
<text x="209.4" y="174.8" font-size="6.8" font-weight="bold" fill="#000" stroke="#000" stroke-width="0.2" textLength="8.2" lengthAdjust="spacingAndGlyphs">(6)</text>
<text x="245.9" y="176.8" font-size="11.5" font-weight="bold" fill="#000" stroke="#000" stroke-width="0.28">E</text>
<line x1="289.30" y1="175.10" x2="289.30" y2="281.60" stroke="#000" stroke-width="1.3"/>
<line x1="288.70" y1="281.00" x2="447.60" y2="281.00" stroke="#000" stroke-width="1.3"/>
<line x1="287.10" y1="281.00" x2="289.30" y2="281.00" stroke="#000" stroke-width="0.9"/>
<text x="285.90000000000003" y="283.3" font-size="6.4" font-weight="bold" fill="#000" text-anchor="end" stroke="#000" stroke-width="0.15">0</text>
<line x1="287.10" y1="271.24" x2="289.30" y2="271.24" stroke="#000" stroke-width="0.9"/>
<line x1="287.10" y1="261.48" x2="289.30" y2="261.48" stroke="#000" stroke-width="0.9"/>
<text x="285.90000000000003" y="263.78000000000003" font-size="6.4" font-weight="bold" fill="#000" text-anchor="end" stroke="#000" stroke-width="0.15">20</text>
<line x1="287.10" y1="251.72" x2="289.30" y2="251.72" stroke="#000" stroke-width="0.9"/>
<line x1="287.10" y1="241.96" x2="289.30" y2="241.96" stroke="#000" stroke-width="0.9"/>
<text x="285.90000000000003" y="244.26000000000002" font-size="6.4" font-weight="bold" fill="#000" text-anchor="end" stroke="#000" stroke-width="0.15">40</text>
<line x1="287.10" y1="232.20" x2="289.30" y2="232.20" stroke="#000" stroke-width="0.9"/>
<line x1="287.10" y1="222.44" x2="289.30" y2="222.44" stroke="#000" stroke-width="0.9"/>
<text x="285.90000000000003" y="224.74" font-size="6.4" font-weight="bold" fill="#000" text-anchor="end" stroke="#000" stroke-width="0.15">60</text>
<line x1="287.10" y1="212.68" x2="289.30" y2="212.68" stroke="#000" stroke-width="0.9"/>
<line x1="287.10" y1="202.92" x2="289.30" y2="202.92" stroke="#000" stroke-width="0.9"/>
<text x="285.90000000000003" y="205.22000000000003" font-size="6.4" font-weight="bold" fill="#000" text-anchor="end" stroke="#000" stroke-width="0.15">80</text>
<line x1="287.10" y1="193.16" x2="289.30" y2="193.16" stroke="#000" stroke-width="0.9"/>
<line x1="287.10" y1="183.40" x2="289.30" y2="183.40" stroke="#000" stroke-width="0.9"/>
<text x="285.90000000000003" y="185.70000000000002" font-size="6.4" font-weight="bold" fill="#000" text-anchor="end" stroke="#000" stroke-width="0.15">100</text>
<line x1="289.30" y1="281.00" x2="289.30" y2="283.00" stroke="#000" stroke-width="0.9"/>
<text x="289.3" y="290.9" font-size="6.4" font-weight="bold" fill="#000" text-anchor="middle" stroke="#000" stroke-width="0.15">0</text>
<line x1="308.30" y1="281.00" x2="308.30" y2="283.00" stroke="#000" stroke-width="0.9"/>
<line x1="327.30" y1="281.00" x2="327.30" y2="283.00" stroke="#000" stroke-width="0.9"/>
<text x="327.298" y="290.9" font-size="6.4" font-weight="bold" fill="#000" text-anchor="middle" stroke="#000" stroke-width="0.15">6</text>
<line x1="346.30" y1="281.00" x2="346.30" y2="283.00" stroke="#000" stroke-width="0.9"/>
<line x1="365.30" y1="281.00" x2="365.30" y2="283.00" stroke="#000" stroke-width="0.9"/>
<text x="365.29600000000005" y="290.9" font-size="6.4" font-weight="bold" fill="#000" text-anchor="middle" stroke="#000" stroke-width="0.15">12</text>
<line x1="384.30" y1="281.00" x2="384.30" y2="283.00" stroke="#000" stroke-width="0.9"/>
<line x1="403.29" y1="281.00" x2="403.29" y2="283.00" stroke="#000" stroke-width="0.9"/>
<text x="403.294" y="290.9" font-size="6.4" font-weight="bold" fill="#000" text-anchor="middle" stroke="#000" stroke-width="0.15">18</text>
<line x1="422.29" y1="281.00" x2="422.29" y2="283.00" stroke="#000" stroke-width="0.9"/>
<line x1="441.29" y1="281.00" x2="441.29" y2="283.00" stroke="#000" stroke-width="0.9"/>
<text x="441.29200000000003" y="290.9" font-size="6.4" font-weight="bold" fill="#000" text-anchor="middle" stroke="#000" stroke-width="0.15">24</text>
<text transform="translate(269.7,226.3) rotate(-90)" x="0" y="0" text-anchor="middle" font-size="7.5" font-weight="bold" fill="#000" textLength="46.2" lengthAdjust="spacingAndGlyphs" stroke="#000" stroke-width="0.28">% Viable cells</text>
<text x="367.79600000000005" y="301.8" font-size="7.8" font-weight="bold" fill="#000" text-anchor="middle" textLength="41.6" lengthAdjust="spacingAndGlyphs" stroke="#000" stroke-width="0.35">Time (hours)</text>
<polyline points="289.30,183.40 308.30,193.16 327.30,198.04 346.30,202.92 365.30,205.85 441.29,219.51" fill="none" stroke="#c02e1e" stroke-width="1.2" stroke-linejoin="round" stroke-dasharray="2.4,1.3" stroke-dashoffset="0"/>
<polyline points="289.30,183.40 308.30,191.21 327.30,197.55 346.30,202.92 365.30,205.85 441.29,224.39" fill="none" stroke="#000" stroke-width="1.6" stroke-linejoin="round" stroke-dasharray="2.4,1.3" stroke-dashoffset="1.8"/>
<polyline points="289.30,183.40 308.30,190.23 327.30,197.55 346.30,202.92 365.30,205.36 441.29,229.27" fill="none" stroke="#2a36d8" stroke-width="1.7" stroke-linejoin="round" stroke-dasharray="2.4,1.3" stroke-dashoffset="0"/>
<polyline points="289.30,183.40 308.30,215.12 327.30,246.35 346.30,252.70 365.30,259.04 441.29,267.34" fill="none" stroke="#000" stroke-width="1.4" stroke-linejoin="round"/>
<polyline points="289.30,183.40 308.30,213.66 327.30,238.25 346.30,247.82 365.30,250.26 441.29,261.48" fill="none" stroke="#c02e1e" stroke-width="1.4" stroke-linejoin="round"/>
<polyline points="289.30,183.40 308.30,228.30 327.30,246.84 346.30,251.23 365.30,253.67 441.29,257.09" fill="none" stroke="#2a36d8" stroke-width="1.4" stroke-linejoin="round"/>
<path d="M306.62,191.98 L309.98,191.98 L308.30,194.84 Z" fill="#c02e1e"/>
<rect x="325.77" y="196.51" width="3.06" height="3.06" fill="#c02e1e" stroke="none" stroke-width="1"/>
<rect x="344.77" y="201.39" width="3.06" height="3.06" fill="#c02e1e" stroke="none" stroke-width="1"/>
<rect x="363.77" y="204.32" width="3.06" height="3.06" fill="#c02e1e" stroke="none" stroke-width="1"/>
<rect x="439.76" y="217.98" width="3.06" height="3.06" fill="#c02e1e" stroke="none" stroke-width="1"/>
<path d="M306.54,191.21 L308.30,189.45 L310.06,191.21 L308.30,192.97 Z" fill="#000"/>
<path d="M325.54,197.55 L327.30,195.79 L329.06,197.55 L327.30,199.31 Z" fill="#000"/>
<path d="M344.54,202.92 L346.30,201.16 L348.06,202.92 L346.30,204.68 Z" fill="#000"/>
<path d="M363.54,205.85 L365.30,204.09 L367.06,205.85 L365.30,207.61 Z" fill="#000"/>
<path d="M439.53,224.39 L441.29,222.63 L443.05,224.39 L441.29,226.15 Z" fill="#000"/>
<path d="M305.56,190.23 L308.30,187.50 L311.04,190.23 L308.30,192.97 Z" fill="#2a36d8"/>
<circle cx="327.30" cy="197.55" r="2.38" fill="#2a36d8" stroke="none" stroke-width="1"/>
<circle cx="346.30" cy="202.92" r="2.38" fill="#2a36d8" stroke="none" stroke-width="1"/>
<circle cx="365.30" cy="205.36" r="2.38" fill="#2a36d8" stroke="none" stroke-width="1"/>
<circle cx="441.29" cy="229.27" r="2.0229999999999997" fill="#fff" stroke="#2a36d8" stroke-width="1.0"/>
<path d="M306.54,215.12 L308.30,213.36 L310.06,215.12 L308.30,216.88 Z" fill="#000"/>
<path d="M325.54,246.35 L327.30,244.59 L329.06,246.35 L327.30,248.11 Z" fill="#000"/>
<path d="M344.54,252.70 L346.30,250.94 L348.06,252.70 L346.30,254.46 Z" fill="#000"/>
<path d="M363.54,259.04 L365.30,257.28 L367.06,259.04 L365.30,260.80 Z" fill="#000"/>
<path d="M439.53,267.34 L441.29,265.58 L443.05,267.34 L441.29,269.10 Z" fill="#000"/>
<rect x="306.77" y="212.13" width="3.06" height="3.06" fill="#c02e1e" stroke="none" stroke-width="1"/>
<rect x="325.77" y="236.72" width="3.06" height="3.06" fill="#c02e1e" stroke="none" stroke-width="1"/>
<rect x="344.77" y="246.29" width="3.06" height="3.06" fill="#c02e1e" stroke="none" stroke-width="1"/>
<rect x="363.77" y="248.73" width="3.06" height="3.06" fill="#c02e1e" stroke="none" stroke-width="1"/>
<rect x="439.76" y="259.95" width="3.06" height="3.06" fill="#c02e1e" stroke="none" stroke-width="1"/>
<circle cx="289.30" cy="183.40" r="1.7" fill="#2a36d8" stroke="none" stroke-width="1"/>
<circle cx="308.30" cy="228.30" r="1.7" fill="#2a36d8" stroke="none" stroke-width="1"/>
<circle cx="327.30" cy="246.84" r="1.7" fill="#2a36d8" stroke="none" stroke-width="1"/>
<circle cx="346.30" cy="251.23" r="1.7" fill="#2a36d8" stroke="none" stroke-width="1"/>
<circle cx="365.30" cy="253.67" r="1.7" fill="#2a36d8" stroke="none" stroke-width="1"/>
<circle cx="441.29" cy="257.09" r="1.7" fill="#2a36d8" stroke="none" stroke-width="1"/>
<line x1="308.30" y1="224.88" x2="308.30" y2="205.36" stroke="#000" stroke-width="1"/>
<line x1="306.50" y1="205.36" x2="310.10" y2="205.36" stroke="#000" stroke-width="1"/>
<line x1="306.50" y1="224.88" x2="310.10" y2="224.88" stroke="#000" stroke-width="1"/>
<line x1="308.30" y1="215.61" x2="308.30" y2="211.70" stroke="#c02e1e" stroke-width="1"/>
<line x1="306.50" y1="211.70" x2="310.10" y2="211.70" stroke="#c02e1e" stroke-width="1"/>
<line x1="306.50" y1="215.61" x2="310.10" y2="215.61" stroke="#c02e1e" stroke-width="1"/>
<line x1="308.30" y1="237.08" x2="308.30" y2="219.51" stroke="#2a36d8" stroke-width="1"/>
<line x1="306.50" y1="219.51" x2="310.10" y2="219.51" stroke="#2a36d8" stroke-width="1"/>
<line x1="306.50" y1="237.08" x2="310.10" y2="237.08" stroke="#2a36d8" stroke-width="1"/>
<line x1="327.30" y1="251.72" x2="327.30" y2="241.96" stroke="#2a36d8" stroke-width="1"/>
<line x1="325.50" y1="241.96" x2="329.10" y2="241.96" stroke="#2a36d8" stroke-width="1"/>
<line x1="325.50" y1="251.72" x2="329.10" y2="251.72" stroke="#2a36d8" stroke-width="1"/>
<line x1="327.30" y1="239.42" x2="327.30" y2="235.52" stroke="#c02e1e" stroke-width="1"/>
<line x1="325.50" y1="235.52" x2="329.10" y2="235.52" stroke="#c02e1e" stroke-width="1"/>
<line x1="325.50" y1="239.42" x2="329.10" y2="239.42" stroke="#c02e1e" stroke-width="1"/>
<line x1="346.30" y1="259.04" x2="346.30" y2="243.42" stroke="#2a36d8" stroke-width="1"/>
<line x1="344.50" y1="243.42" x2="348.10" y2="243.42" stroke="#2a36d8" stroke-width="1"/>
<line x1="344.50" y1="259.04" x2="348.10" y2="259.04" stroke="#2a36d8" stroke-width="1"/>
<line x1="346.30" y1="250.74" x2="346.30" y2="244.89" stroke="#c02e1e" stroke-width="1"/>
<line x1="344.50" y1="244.89" x2="348.10" y2="244.89" stroke="#c02e1e" stroke-width="1"/>
<line x1="344.50" y1="250.74" x2="348.10" y2="250.74" stroke="#c02e1e" stroke-width="1"/>
<line x1="365.30" y1="260.50" x2="365.30" y2="246.84" stroke="#2a36d8" stroke-width="1"/>
<line x1="363.50" y1="246.84" x2="367.10" y2="246.84" stroke="#2a36d8" stroke-width="1"/>
<line x1="363.50" y1="260.50" x2="367.10" y2="260.50" stroke="#2a36d8" stroke-width="1"/>
<line x1="365.30" y1="265.87" x2="365.30" y2="252.21" stroke="#000" stroke-width="1"/>
<line x1="363.50" y1="252.21" x2="367.10" y2="252.21" stroke="#000" stroke-width="1"/>
<line x1="363.50" y1="265.87" x2="367.10" y2="265.87" stroke="#000" stroke-width="1"/>
<line x1="441.29" y1="261.97" x2="441.29" y2="252.21" stroke="#2a36d8" stroke-width="1"/>
<line x1="439.49" y1="252.21" x2="443.09" y2="252.21" stroke="#2a36d8" stroke-width="1"/>
<line x1="439.49" y1="261.97" x2="443.09" y2="261.97" stroke="#2a36d8" stroke-width="1"/>
<line x1="441.29" y1="269.78" x2="441.29" y2="264.90" stroke="#000" stroke-width="1"/>
<line x1="439.49" y1="264.90" x2="443.09" y2="264.90" stroke="#000" stroke-width="1"/>
<line x1="439.49" y1="269.78" x2="443.09" y2="269.78" stroke="#000" stroke-width="1"/>
<line x1="441.29" y1="233.66" x2="441.29" y2="224.88" stroke="#2a36d8" stroke-width="1"/>
<line x1="439.49" y1="224.88" x2="443.09" y2="224.88" stroke="#2a36d8" stroke-width="1"/>
<line x1="439.49" y1="233.66" x2="443.09" y2="233.66" stroke="#2a36d8" stroke-width="1"/>
<line x1="441.29" y1="221.46" x2="441.29" y2="217.56" stroke="#c02e1e" stroke-width="1"/>
<line x1="439.49" y1="217.56" x2="443.09" y2="217.56" stroke="#c02e1e" stroke-width="1"/>
<line x1="439.49" y1="221.46" x2="443.09" y2="221.46" stroke="#c02e1e" stroke-width="1"/>
<line x1="365.30" y1="207.31" x2="365.30" y2="203.41" stroke="#000" stroke-width="1"/>
<line x1="363.50" y1="203.41" x2="367.10" y2="203.41" stroke="#000" stroke-width="1"/>
<line x1="363.50" y1="207.31" x2="367.10" y2="207.31" stroke="#000" stroke-width="1"/>
<line x1="441.29" y1="263.43" x2="441.29" y2="259.53" stroke="#c02e1e" stroke-width="1"/>
<line x1="439.49" y1="259.53" x2="443.09" y2="259.53" stroke="#c02e1e" stroke-width="1"/>
<line x1="439.49" y1="263.43" x2="443.09" y2="263.43" stroke="#c02e1e" stroke-width="1"/>
<line x1="258.3" y1="171.4" x2="265.3" y2="171.4" stroke="#000" stroke-width="1"/>
<path d="M259.8,171.4 L261.8,169.4 L263.8,171.4 L261.8,173.4 Z" fill="#000"/>
<text x="266.9" y="174.4" font-size="7.2" font-weight="bold" fill="#000" stroke="#000" stroke-width="0.2" textLength="36.3" lengthAdjust="spacingAndGlyphs">Eμ-<tspan font-style="italic">myc</tspan> (7)</text>
<line x1="308.8" y1="171.6" x2="315.2" y2="171.6" stroke="#c02e1e" stroke-width="1"/>
<path d="M310.4,171.6 L312,170.0 L313.6,171.6 L312,173.2 Z" fill="#c02e1e"/>
<text x="316.0" y="174.4" font-size="7.2" font-weight="bold" fill="#000" stroke="#000" stroke-width="0.2" textLength="46.6" lengthAdjust="spacingAndGlyphs">Eμ-<tspan font-style="italic">myc/Bmi1</tspan></text>
<text x="363.0" y="171.2" font-size="4.5" font-weight="bold" fill="#000" stroke="#000" stroke-width="0.2" textLength="5.4" lengthAdjust="spacingAndGlyphs">+/-</text>
<text x="371.0" y="174.4" font-size="7.2" font-weight="bold" fill="#000" stroke="#000" stroke-width="0.2" textLength="7.7" lengthAdjust="spacingAndGlyphs">(4)</text>
<line x1="384.2" y1="171.8" x2="390.4" y2="171.8" stroke="#2a36d8" stroke-width="1"/>
<circle cx="387.3" cy="171.8" r="1.8" fill="#2a36d8"/>
<text x="391.8" y="174.4" font-size="7.2" font-weight="bold" fill="#000" stroke="#000" stroke-width="0.2" textLength="50.4" lengthAdjust="spacingAndGlyphs">Eμ-<tspan font-style="italic">myc/Suz12</tspan></text>
<text x="442.6" y="171.2" font-size="4.5" font-weight="bold" fill="#000" stroke="#000" stroke-width="0.2" textLength="13.3" lengthAdjust="spacingAndGlyphs">PHD/+</text>
<text x="459.7" y="174.4" font-size="7.2" font-weight="bold" fill="#000" stroke="#000" stroke-width="0.2" textLength="8.0" lengthAdjust="spacingAndGlyphs">(7)</text>
</svg>
</body></html>
